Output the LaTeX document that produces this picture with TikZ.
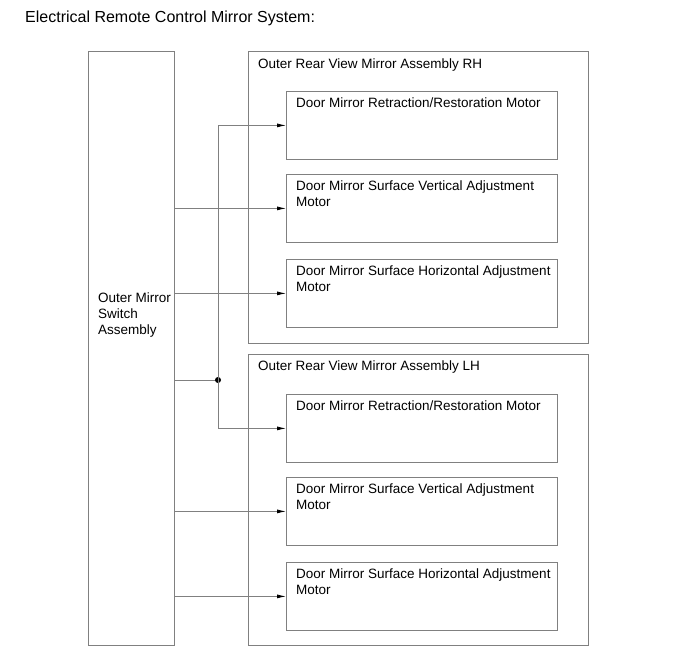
\documentclass[tikz,border=0pt]{standalone}
\usepackage{fontspec}
\setmainfont{Liberation Sans}
\usetikzlibrary{positioning,arrows.meta}

\definecolor{linegray}{gray}{0.5}

\tikzset{
  box/.style={draw=linegray, line width=0.8pt, anchor=north west, inner sep=0pt},
  motor/.style={box, minimum width=271pt, minimum height=68pt},
  group/.style={box, minimum width=340pt},
  txt/.style={anchor=north west, inner sep=0pt, align=left,
              font=\fontsize{13.5}{16}\selectfont},
  wire/.style={draw=linegray, line width=0.8pt},
  feed/.style={wire, -{Latex[length=9pt,width=4pt,black]}}
}

\begin{document}
\begin{tikzpicture}[x=1pt, y=-1pt]
% 1 unit = 1 px of the 690 x 659 sheet, y runs downwards
\useasboundingbox (0,0) rectangle (690,659);

%% --- Title ---------------------------------------------------
\node[txt, font=\fontsize{16}{19}\selectfont] (title) at (25,11)
     {Electrical Remote Control Mirror System:};

%% --- Switch assembly -----------------------------------------
\node[box, minimum width=86pt, minimum height=594pt] (sw) at (88,51) {};
\node[txt] (swtxt) at (98,293) {Outer Mirror\\Switch\\Assembly};

%% --- Mirror assembly RH --------------------------------------
\node[group, minimum height=292pt] (rh) at (248,51) {};
\node[txt] (rhtxt) at (258,59) {Outer Rear View Mirror Assembly RH};

\node[motor] (rhret)  at (286,91)  {};
\node[motor] (rhvert) at (286,174) {};
\node[motor] (rhhor)  at (286,259) {};

%% --- Mirror assembly LH --------------------------------------
\node[group, minimum height=291pt] (lh) at (248,354) {};
\node[txt] (lhtxt) at (258,361) {Outer Rear View Mirror Assembly LH};

\node[motor] (lhret)  at (286,394) {};
\node[motor] (lhvert) at (286,477) {};
\node[motor] (lhhor)  at (286,562) {};

%% --- Motor labels --------------------------------------------
\foreach \m/\lbl in {rhret/{Door Mirror Retraction/Restoration Motor},
                     rhvert/{Door Mirror Surface Vertical Adjustment\\Motor},
                     rhhor/{Door Mirror Surface Horizontal Adjustment\\Motor},
                     lhret/{Door Mirror Retraction/Restoration Motor},
                     lhvert/{Door Mirror Surface Vertical Adjustment\\Motor},
                     lhhor/{Door Mirror Surface Horizontal Adjustment\\Motor}}{
  \node[txt] (\m txt) at ([shift={(10,7)}]\m.north west) {\lbl};
}

%% --- Shared retraction line with junction --------------------
\coordinate (jn) at (218,380);
\draw[wire] (sw.east |- jn) -- (jn);
\fill (jn) circle (3pt);
\draw[feed] (jn) |- (rhret.west);
\draw[feed] (jn) |- (lhret.west);

%% --- Direct lines to adjustment motors -----------------------
\foreach \m in {rhvert, rhhor, lhvert, lhhor}{
  \draw[feed] (sw.east |- \m.west) -- (\m.west);
}

\end{tikzpicture}
\end{document}
